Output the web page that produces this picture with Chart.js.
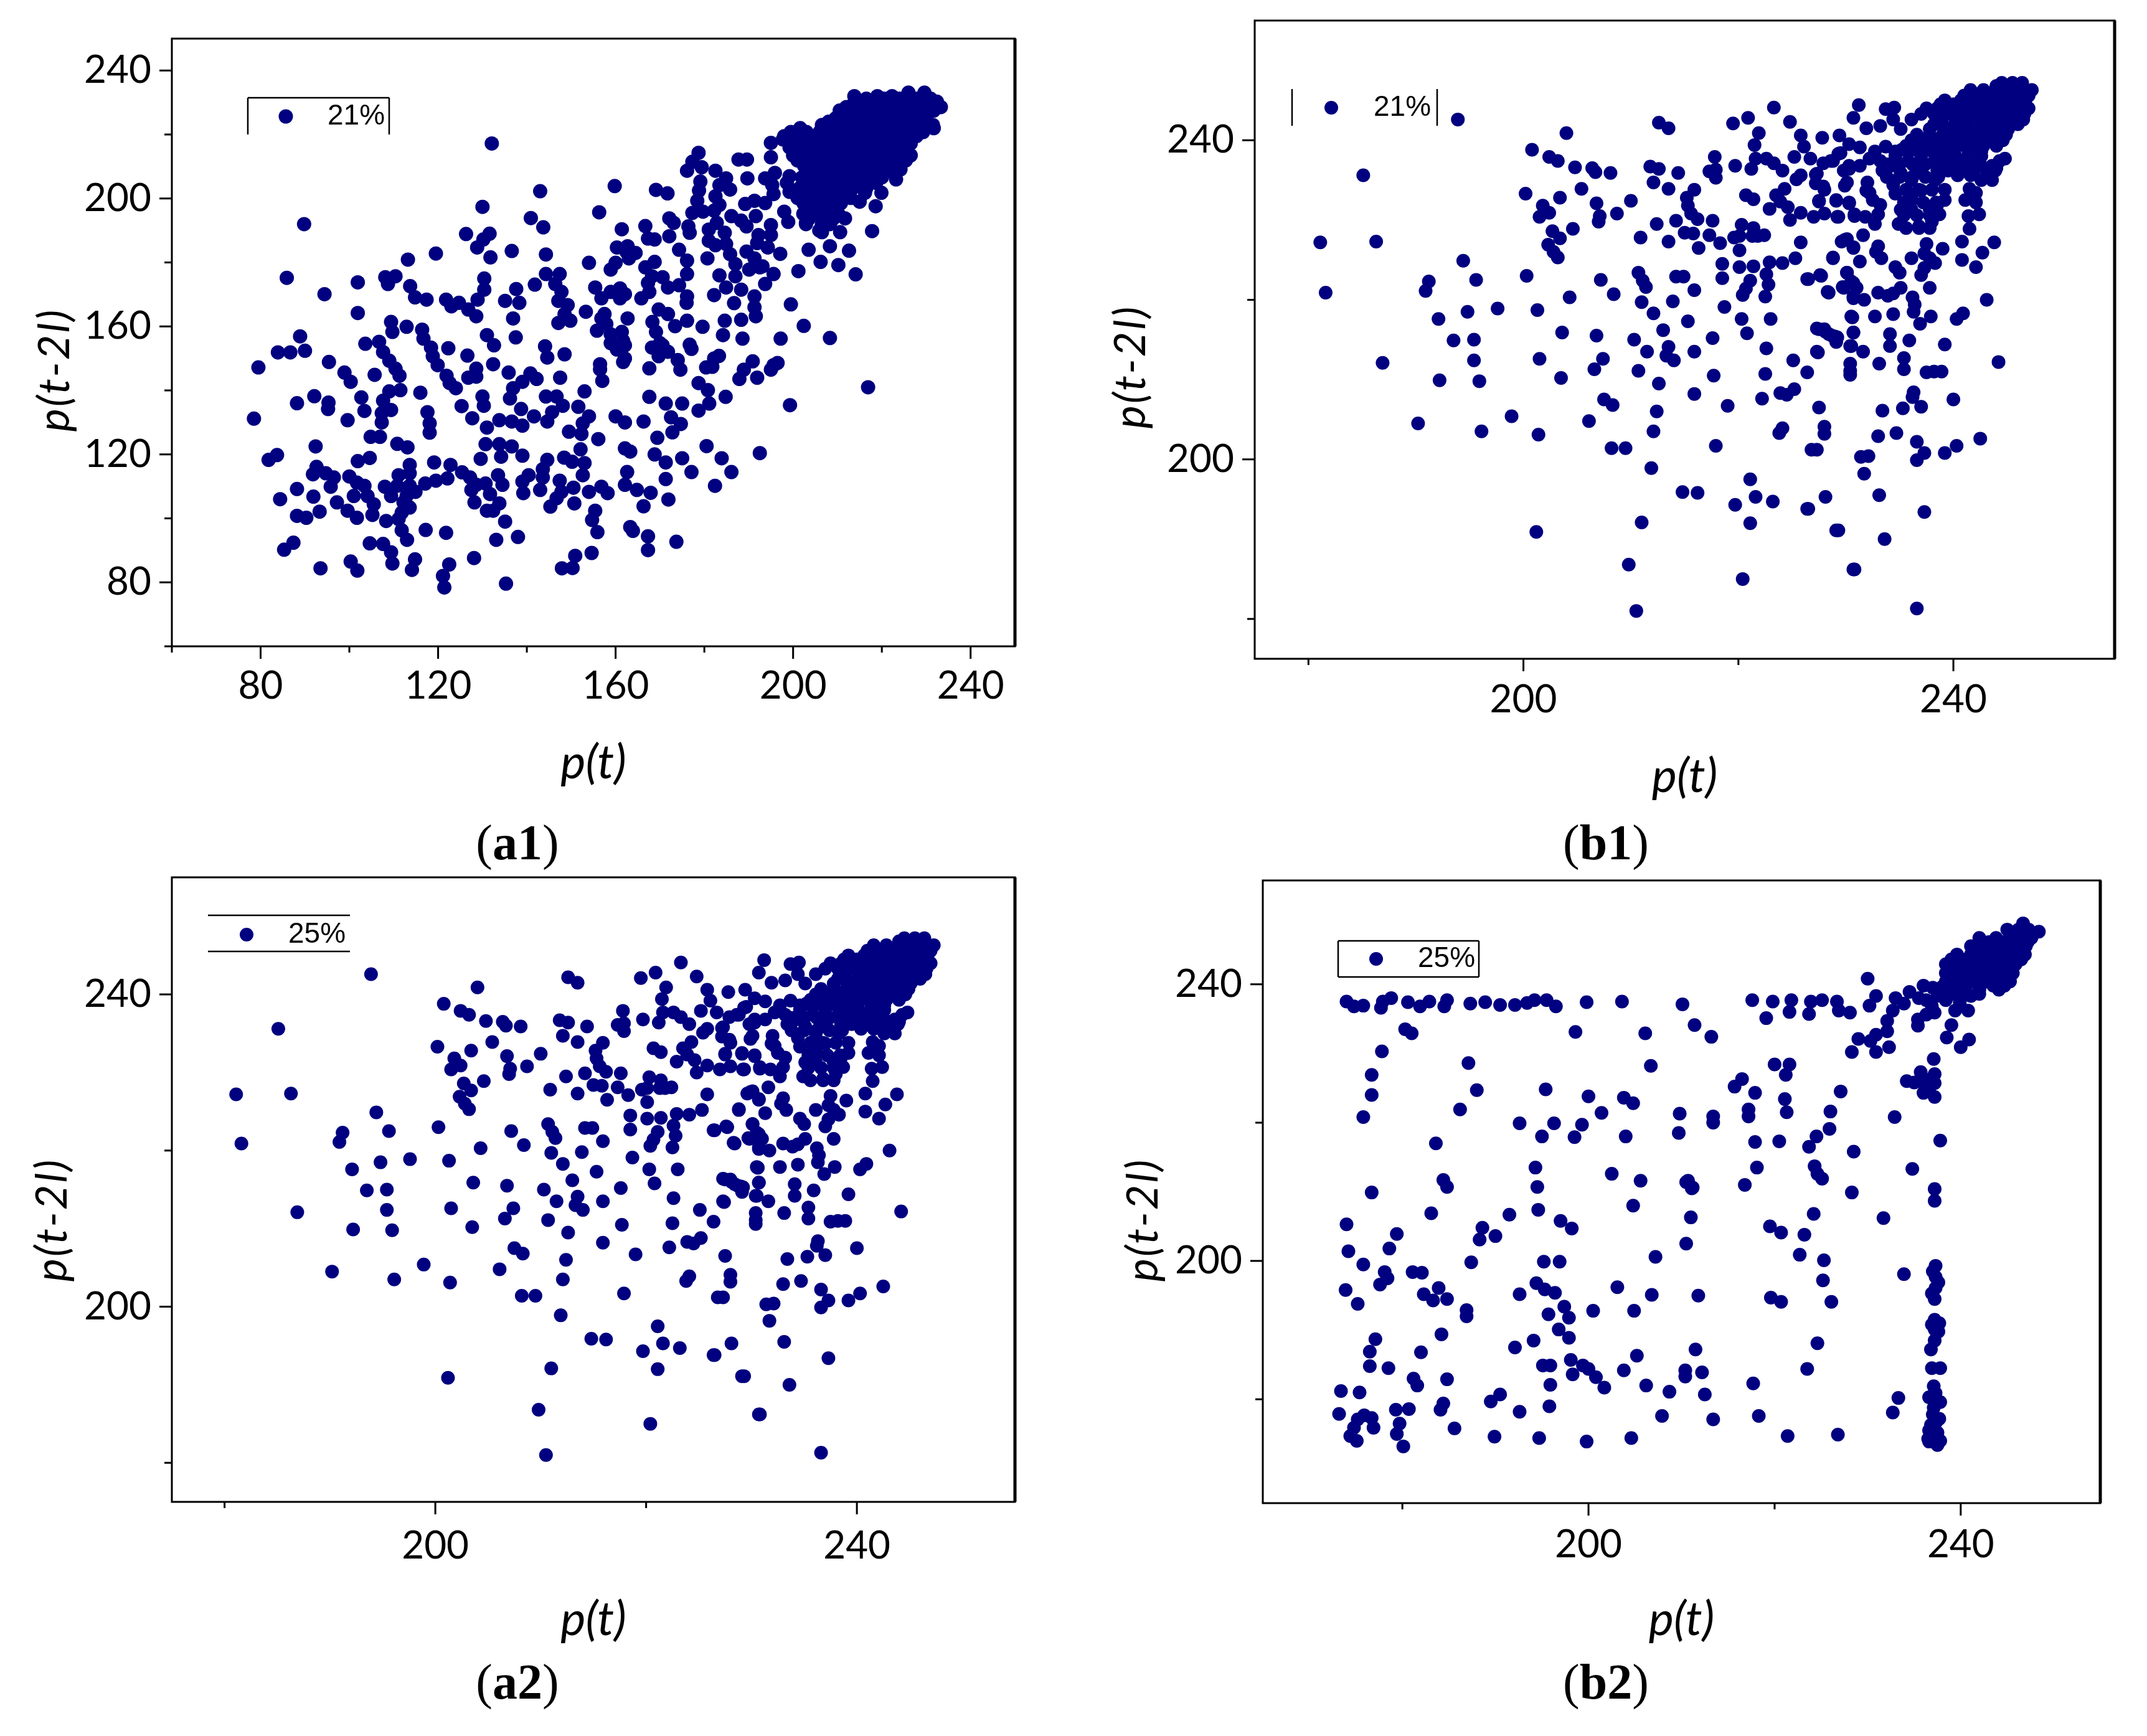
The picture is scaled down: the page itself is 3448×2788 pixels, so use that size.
<!DOCTYPE html>
<html>
<head>
<meta charset="utf-8">
<title>p(t) against p(t-2l)</title>
<script src="https://cdn.jsdelivr.net/npm/chart.js@4/dist/chart.umd.min.js"></script>
<style>
  html, body { margin: 0; padding: 0; background: #fff; }
  #page { position: relative; width: 3448px; height: 2788px; overflow: hidden; }
  canvas { position: absolute; }
  .caption { position: absolute; transform: translate(-50%, -50%); font: 80px "Liberation Serif", serif; color: #000; white-space: nowrap; }
  .caption b { font-weight: bold; }
</style>
</head>
<body>
<div id="page"></div>
<script>
// values, [p(t), p(t-2l)]
const a1Points = [
  [132.1,217.2],[89.8,192.0],[143.0,202.3],[159.8,203.9],[130.0,197.4],[156.3,195.7],[140.9,193.9],[143.7,191.0],[161.4,190.4],[126.3,188.9],
  [131.6,189.0],[130.2,187.2],[128.8,184.7],[119.5,182.8],[113.2,180.9],[131.8,181.6],[136.6,183.6],[144.3,182.5],[154.0,179.9],[85.9,175.2],
  [101.9,173.8],[94.4,170.1],[108.1,175.4],[110.4,175.7],[108.7,173.3],[113.7,172.6],[114.8,169.1],[117.4,168.4],[121.8,168.4],[123.0,166.3],
  [124.7,167.4],[126.8,165.3],[128.6,163.2],[128.9,168.4],[130.4,175.0],[130.4,171.5],[135.1,168.0],[137.6,171.7],[138.3,167.4],[141.8,173.1],
  [144.3,176.4],[147.4,176.4],[146.4,173.3],[147.8,170.8],[147.1,168.0],[149.2,166.7],[148.5,163.9],[147.1,161.1],[149.8,161.8],[153.3,164.6],
  [155.4,172.2],[156.8,168.8],[158.9,170.8],[161.0,171.9],[161.0,168.8],[158.9,177.8],[160.0,179.9],[160.3,184.7],[162.4,183.4],[101.9,164.2],
  [136.9,162.5],[109.4,161.4],[109.7,158.3],[112.9,159.9],[116.4,159.0],[116.7,156.2],[131.0,157.3],[132.6,154.1],[137.5,156.6],[88.9,156.9],
  [83.9,151.9],[86.7,151.9],[90.0,152.4],[79.5,147.2],[95.4,148.9],[103.6,154.6],[106.7,155.2],[107.6,152.0],[109.0,149.3],[110.4,146.8],
  [122.3,153.2],[118.4,153.4],[118.8,150.7],[119.9,147.9],[126.6,150.9],[132.4,148.2],[128.6,146.8],[144.1,153.8],[144.6,150.3],[148.5,151.3],
  [156.5,148.2],[161.7,148.9],[156.8,162.5],[157.9,160.8],[155.8,158.7],[157.5,163.9],[158.9,157.6],[158.9,154.8],[161.4,158.3],[161.7,155.5],
  [160.3,152.8],[98.9,145.6],[100.3,142.7],[105.7,144.9],[111.3,144.6],[121.9,144.6],[122.6,142.3],[124.0,140.7],[128.6,144.3],[126.8,144.0],
  [135.9,145.6],[140.8,145.3],[142.2,143.6],[139.0,142.7],[136.9,140.7],[136.2,137.5],[147.5,144.0],[156.5,146.6],[157.0,143.0],[153.0,139.7],
  [116.0,139.3],[111.5,140.1],[109.0,139.7],[107.6,136.8],[109.4,133.9],[107.3,132.9],[107.3,130.0],[102.7,137.8],[103.4,133.6],[92.1,138.2],
  [88.2,136.0],[95.3,136.2],[95.2,134.2],[78.5,131.2],[99.6,130.7],[117.6,133.2],[118.1,129.7],[118.1,126.8],[104.8,125.5],[106.9,125.5],
  [125.3,135.1],[130.0,138.1],[130.3,135.2],[127.7,131.3],[138.7,134.2],[139.0,129.0],[136.6,130.3],[133.8,130.7],[141.6,131.9],[144.6,130.3],
  [145.7,133.2],[144.3,138.1],[146.7,138.1],[148.1,135.2],[151.6,134.9],[154.0,131.9],[152.6,129.7],[149.5,127.1],[152.3,126.4],[156.1,124.8],
  [160.0,131.9],[162.1,130.0],[131.0,128.4],[130.7,123.2],[129.6,118.6],[133.8,123.2],[134.2,119.3],[136.6,122.5],[139.0,119.6],[152.1,121.6],
  [162.1,121.9],[148.4,119.0],[150.2,117.7],[153.0,117.3],[152.6,113.5],[144.6,118.3],[143.6,115.4],[143.6,112.8],[147.4,111.8],[140.4,113.5],
  [139.0,111.5],[139.2,107.9],[143.0,108.9],[162.1,110.5],[156.8,109.9],[158.2,107.9],[154.0,108.3],[150.5,109.6],[147.8,108.3],[146.7,106.3],
  [145.3,103.7],[150.7,104.7],[155.4,102.4],[154.7,99.5],[155.9,95.7],[150.9,88.3],[147.9,84.4],[135.3,79.6],[128.1,87.6],[138.0,94.2],
  [133.1,93.3],[135.1,99.0],[122.5,85.6],[121.1,82.0],[121.4,78.4],[114.8,87.2],[114.1,83.9],[109.7,85.9],[109.4,89.4],[107.6,92.0],
  [104.6,92.2],[100.3,86.5],[101.8,83.7],[93.5,84.4],[87.4,92.4],[85.3,90.2],[117.2,96.4],[121.8,95.5],[113.0,93.3],[111.8,96.3],
  [111.1,99.8],[111.8,101.8],[113.6,103.4],[108.3,99.2],[101.7,100.2],[99.6,102.4],[97.2,105.0],[105.2,101.1],[105.5,104.4],[104.1,107.0],
  [101.0,107.0],[103.4,110.2],[101.7,111.2],[93.3,102.1],[88.2,100.8],[90.3,100.2],[84.4,106.0],[88.2,109.2],[91.9,106.8],[95.8,109.9],
  [96.5,112.8],[94.7,114.1],[92.6,116.1],[91.8,113.8],[100.0,113.1],[81.8,118.3],[83.7,119.8],[92.4,122.5],[101.9,117.9],[104.6,118.9],
  [110.8,123.3],[113.1,122.2],[113.6,116.7],[113.6,114.1],[111.1,113.5],[108.0,109.9],[110.8,110.2],[113.6,110.2],[109.4,107.0],[112.9,107.0],
  [112.2,105.0],[114.9,108.3],[117.1,110.9],[119.5,111.8],[122.1,112.5],[119.1,117.5],[122.8,116.7],[125.4,114.4],[127.2,112.8],[128.6,110.5],
  [127.5,108.9],[130.7,110.9],[133.5,113.5],[134.5,110.5],[131.7,107.6],[128.2,105.0],[131.0,102.4],[133.8,104.7],[132.4,102.4],
  [178.7,214.3],[177.3,211.5],[179.4,209.8],[176.1,208.7],[187.7,212.2],[189.6,212.2],[182.5,208.7],[184.9,206.3],[183.4,204.2],[185.8,202.8],
  [182.5,200.7],[179.1,205.3],[178.8,202.5],[178.4,199.3],[189.7,206.3],[169.1,202.7],[171.7,201.6],[177.3,195.5],[179.7,195.9],[182.2,196.2],
  [183.4,198.0],[172.1,193.8],[173.1,192.4],[176.4,191.3],[176.7,189.3],[181.0,190.3],[181.0,186.8],[182.8,192.4],[184.6,189.3],[184.9,185.8],
  [182.5,185.4],[186.1,194.5],[188.3,193.1],[189.5,191.3],[191.6,194.5],[189.2,198.3],[191.3,199.3],[193.7,198.6],[195.6,201.4],[195.3,204.2],
  [193.7,206.3],[195.9,208.0],[198.6,204.9],[199.2,207.0],[195.0,217.4],[197.7,218.5],[195.0,212.9],[201.6,220.5],[198.0,195.9],[198.9,192.7],
  [195.0,191.7],[195.0,188.6],[192.2,188.6],[191.9,186.1],[194.3,184.7],[166.7,191.4],[167.3,187.5],[168.8,187.2],[172.1,188.2],[174.3,184.0],
  [176.1,180.6],[176.1,176.4],[162.7,185.1],[164.5,183.0],[163.0,181.3],[168.8,180.2],[166.7,178.5],[168.2,175.7],[170.6,175.4],[167.3,173.6],
  [171.8,172.2],[174.3,172.9],[176.1,169.4],[176.0,167.4],[180.7,181.3],[185.8,182.6],[187.0,179.5],[187.0,175.7],[183.4,176.0],[184.9,172.2],
  [182.2,169.8],[189.5,183.4],[191.3,181.3],[190.1,177.8],[193.1,178.8],[195.6,176.4],[193.7,173.3],[192.5,178.5],[197.1,182.7],[201.2,177.3],
  [203.5,184.0],[206.2,180.2],[208.3,185.1],[212.6,183.7],[210.2,179.2],[214.1,176.3],[217.8,189.8],[210.6,189.5],[211.7,193.8],[218.6,197.6],
  [215.0,199.0],[219.9,201.8],[223.2,206.0],[224.2,209.1],[205.9,190.0],[202.9,192.4],[199.2,202.1],[199.5,166.9],[188.3,171.5],[191.3,169.4],
  [191.3,166.0],[186.7,167.3],[191.6,163.2],[188.3,162.1],[184.6,161.8],[179.6,159.9],[176.1,161.8],[169.7,165.3],[171.8,163.9],[168.3,161.4],
  [173.4,160.1],[162.7,162.5],[165.8,168.8],[167.6,170.8],[162.1,170.1],[184.2,157.3],[188.6,156.2],[197.2,156.2],[208.3,156.4],[202.4,160.2],
  [176.7,154.3],[169.1,158.3],[168.2,153.4],[170.6,154.1],[171.8,152.1],[169.7,150.7],[170.0,154.8],[190.9,149.1],[195.6,147.9],[196.5,148.6],
  [182.2,150.0],[180.4,147.2],[174.6,146.5],[167.6,146.9],[162.1,154.1],[162.1,150.0],
  [226.0,233.1],[229.6,233.1],[213.8,232.0],[219.0,232.0],[222.3,232.0],[232.4,230.3],[227.8,230.3],[224.8,230.3],[212.0,228.6],[215.0,228.6],
  [218.1,228.6],[221.1,228.6],[233.3,228.6],[224.2,226.5],[227.2,226.5],[230.2,226.5],[209.6,225.1],[212.6,225.1],[215.6,225.1],[218.7,225.1],
  [221.7,225.1],[206.5,223.0],[224.8,223.0],[227.8,223.0],[231.5,223.0],[201.6,222.0],[209.6,222.0],[212.6,222.0],[215.6,222.0],[218.7,222.0],
  [221.7,222.0],[231.7,222.0],[198.0,219.5],[201.0,219.5],[204.1,219.5],[207.1,219.5],[224.8,219.5],[227.8,219.5],[210.2,218.5],[213.2,218.5],
  [216.2,218.5],[219.3,218.5],[222.3,218.5],[199.2,216.0],[202.3,216.0],[205.3,216.0],[208.3,216.0],[225.4,216.0],[211.4,215.0],[214.4,215.0],
  [217.5,215.0],[220.5,215.0],[223.5,215.0],[201.0,211.9],[204.1,211.9],[207.1,211.9],[210.2,211.9],[213.2,211.9],[216.2,211.9],[219.3,211.9],
  [222.3,211.9],[225.4,211.9],[204.1,208.4],[207.1,208.4],[210.2,208.4],[213.2,208.4],[216.2,208.4],[219.3,208.4],[222.3,208.4],[203.5,204.9],
  [206.5,204.9],[209.6,204.9],[212.6,204.9],[215.6,204.9],[218.7,204.9],[203.5,201.8],[206.5,201.8],[209.6,201.8],[212.6,201.8],[216.2,201.8],
  [202.3,198.6],[205.3,198.6],[208.3,198.6],[210.8,198.6],[202.3,195.2],[205.3,195.2],[208.3,195.2],[210.2,195.2],[202.9,192.0],[206.5,192.0],[208.3,192.0],
  [216.9,141.0],[199.3,135.4],[192.5,120.4],[183.9,118.8],[180.5,122.6],[186.1,114.5],[182.4,110.2],[195.0,146.5],[187.9,143.6],[191.9,144.0],
  [181.8,147.4],[180.8,140.1],[178.7,142.3],[169.4,125.2],[172.8,126.9],[171.3,112.3],[173.7,92.7],[167.3,94.4],[163.9,96.1],[167.3,90.1],
  [150.3,84.5],[154.6,89.2],[167.6,138.0],[171.3,135.9],[175.0,135.9],[172.5,131.6],[174.7,129.5],[166.3,130.3],[168.8,120.0],[163.3,120.9],
  [162.6,114.5],[171.3,117.5],[175.0,118.8],[177.1,114.5],[167.9,108.0],[171.9,105.9],[164.8,108.9],[166.3,103.8],[163.3,97.3],[178.7,133.7],
  [181.1,135.9],[184.8,138.0],[188.9,146.5],[183.3,150.8],[177.1,153.0],[174.0,149.5]
];

// the dense top right of a1, where single dots cannot be told apart
const a1Cluster = [
  [216.5,231.2],[220.5,231.2],[224.0,231.2],[228.0,231.2],[231.0,231.2],
  [213.5,229.4],[216.5,229.4],[219.5,229.4],[222.5,229.4],[225.5,229.4],[229.0,229.4],[232.0,229.4],
  [210.5,227.5],[213.5,227.5],[216.5,227.5],[219.6,227.5],[222.6,227.5],[225.7,227.5],[228.7,227.5],[231.7,227.5],
  [208.0,224.0],[211.0,224.0],[214.0,224.0],[217.0,224.0],[220.2,224.0],[223.2,224.0],[226.3,224.0],[229.3,224.0],
  [199.5,220.8],[203.0,220.8],[206.0,220.8],[208.5,220.8],[211.0,220.8],[214.0,220.8],[217.0,220.8],[220.2,220.8],[223.2,220.8],[226.3,220.8],[229.3,220.8],
  [200.5,217.2],[203.5,217.2],[206.5,217.2],[209.5,217.2],[212.6,217.2],[215.6,217.2],[218.7,217.2],[221.7,217.2],[224.7,217.2],[226.5,217.2],
  [200.0,213.5],[203.0,213.5],[206.0,213.5],[209.0,213.5],[212.0,213.5],[215.0,213.5],[218.0,213.5],[221.0,213.5],[224.0,213.5],[226.5,213.5],
  [202.5,210.2],[205.5,210.2],[208.7,210.2],[211.7,210.2],[214.7,210.2],[217.7,210.2],[220.7,210.2],[223.7,210.2],
  [202.0,206.6],[205.0,206.6],[208.0,206.6],[211.0,206.6],[214.0,206.6],[217.0,206.6],[220.0,206.6],
  [201.5,203.3],[204.5,203.3],[207.5,203.3],[210.5,203.3],[213.5,203.3],[216.5,203.3],
  [201.0,200.2],[204.0,200.2],[207.0,200.2],[210.0,200.2],[213.0,200.2],
  [203.0,196.9],[206.0,196.9],[209.0,196.9],[203.5,193.6],[207.0,193.6],[209.0,193.6],[206.5,189.5]
];

const a2Points = [
  [193.9,242.6],[185.1,235.6],[181.1,227.2],[186.3,227.3],[181.6,220.9],[204.0,240.9],[200.8,238.8],[202.4,237.9],[203.2,237.4],[204.8,236.6],
  [206.4,236.5],[206.7,236.0],[208.1,235.9],[200.2,233.3],[203.4,232.8],[205.4,233.9],[206.8,232.1],[210.0,232.4],[208.7,230.8],[207.1,230.5],
  [207.0,229.8],[201.8,231.8],[202.4,230.9],[201.5,230.4],[204.6,228.9],[202.7,228.6],[203.4,227.7],[202.3,226.9],[202.8,226.0],[203.2,225.3],
  [194.4,224.9],[195.6,222.5],[200.3,223.0],[191.2,222.3],[190.9,221.1],[207.2,222.5],[208.4,220.7],[204.3,220.3],[194.8,218.5],[197.6,218.9],
  [201.3,218.7],[192.1,217.6],[193.5,214.9],[195.4,215.0],[195.4,212.4],[186.9,212.1],[192.2,209.9],[195.9,209.8],[203.6,215.9],[201.5,212.6],
  [203.5,210.2],[206.8,215.5],[207.4,212.6],[206.6,211.3],[190.2,204.5],[196.1,203.5],[198.9,205.4],[201.4,203.1],[201.2,190.9],[206.1,204.8],
  [207.5,207.5],[208.3,206.8],[208.2,201.4],[209.5,201.4],[211.9,198.9],[212.4,206.0],[212.1,203.5],[212.6,209.5],[210.7,211.1],[210.3,215.0],
  [211.5,213.5],[213.0,216.2],[213.5,214.1],[213.3,213.0],[214.0,212.4],[215.9,213.5],[212.1,218.3],[211.0,219.7],[213.9,219.8],[215.3,217.3],
  [217.6,215.2],[215.9,221.2],[211.4,221.6],[211.1,222.4],[210.7,223.4],[214.2,222.9],[214.9,222.9],[210.9,227.8],[212.4,229.5],[213.5,227.3],
  [214.2,229.9],[215.0,228.4],[215.8,228.3],[216.3,226.5],[217.3,228.1],[218.3,227.1],[217.6,229.9],[216.2,230.1],[215.6,230.8],[215.3,231.8],
  [215.2,232.8],[215.9,233.8],[213.5,233.9],[212.1,234.7],[211.8,236.7],[212.6,236.4],[214.4,235.9],[212.6,242.2],[213.5,241.5],[219.5,242.1],
  [220.9,242.8],[223.3,244.1],[224.8,242.3],[219.7,236.8],[217.8,237.9],[217.3,236.1],[217.9,236.3],[217.9,235.3],[221.9,240.9],[221.5,239.4],
  [221.2,236.4],[221.6,237.7],[222.6,237.7],[223.3,237.1],[224.1,236.2],[225.2,237.9],[225.8,240.6],[226.1,239.2],[226.7,237.7],[227.8,240.3],
  [229.4,240.6],[220.7,233.1],[221.4,232.6],[223.5,233.1],[224.3,233.9],[225.4,235.1],[225.8,235.6],[223.9,232.3],[222.9,231.4],[224.6,231.6],
  [224.8,230.0],[225.8,230.9],[227.0,230.4],[228.0,230.8],[229.3,230.4],[230.8,230.5],[227.5,232.3],[229.1,232.4],[230.3,232.2],[227.3,235.8],
  [227.2,234.6],[228.0,233.8],[228.8,237.4],[229.5,238.4],[230.3,236.4],[229.9,234.3],[220.3,229.4],[220.1,228.0],[219.6,227.8],[220.1,226.2],
  [221.4,229.0],[221.8,228.0],[222.4,228.1],[221.3,228.0],[218.5,224.5],[218.5,222.7],[220.1,224.1],[221.4,224.2],[222.9,224.7],[224.1,224.6],
  [225.3,225.2],[222.6,223.2],[221.1,222.4],[220.7,221.4],[220.4,220.6],[222.8,221.9],[222.5,220.4],[218.7,219.1],[220.3,217.6],[223.0,217.6],
  [220.8,215.8],[222.6,213.9],[225.1,212.4],[227.4,213.4],[226.4,210.9],[222.5,210.7],[217.7,210.5],[215.9,208.2],[219.0,206.7],[222.2,207.6],
  [223.9,208.3],[224.5,208.1],[225.2,208.8],[227.5,206.5],[228.0,204.1],[228.0,203.2],[224.1,203.9],[223.8,203.3],[217.9,201.7],[226.8,201.2],
  [227.3,201.2],[221.1,197.5],[221.6,195.3],[223.2,194.7],[219.7,194.3],[221.1,192.0],[214.8,195.9],[216.2,195.8],[211.0,192.1],[209.8,186.8],
  [210.5,181.0],[220.4,185.0],[226.4,193.8],[228.1,195.3],[229.3,191.1],[230.7,186.2],
  [231.2,244.4],[230.7,242.8],[233.7,243.9],[234.5,244.1],[231.9,241.5],[233.2,241.8],[234.4,242.6],[230.3,239.5],[231.3,239.1],[232.2,237.7],
  [228.6,237.4],[229.3,238.3],[230.3,236.8],[231.3,236.8],[230.1,234.7],[229.8,236.2],[227.9,237.1],[227.2,235.7],[227.9,234.2],[227.5,232.4],
  [229.1,232.5],[230.3,232.1],[230.8,230.7],[231.8,230.4],[232.7,229.5],[229.2,230.4],[231.6,228.1],[230.1,227.6],[230.7,226.6],[229.6,227.3],
  [228.8,225.3],[231.3,224.8],[233.0,226.7],[232.8,226.0],[233.3,225.2],[232.0,234.7],[231.9,233.7],[232.5,232.5],[233.2,231.9],[233.0,230.7],
  [232.2,233.4],[233.4,236.2],[234.2,236.8],[233.2,237.4],[233.7,239.2],[232.7,238.6],[234.4,234.4],[234.6,233.3],[235.1,231.3],[234.9,229.5],
  [236.1,231.3],[236.8,229.2],[235.4,232.2],[236.1,232.8],[237.0,233.7],[238.3,235.0],[238.5,236.2],[237.0,236.2],[236.1,235.0],[235.1,235.9],
  [235.8,237.4],[237.0,238.0],[238.3,238.0],[234.6,238.0],[238.5,231.9],[239.2,232.5],[238.7,230.7],[238.0,229.8],[237.8,231.3],[237.5,227.0],
  [237.3,225.8],[239.0,226.4],[238.3,224.6],[237.3,224.0],[236.1,225.2],[234.6,224.1],[235.0,223.4],[237.0,223.1],[237.8,221.5],[237.8,225.2],
  [230.1,223.4],[230.5,222.3],[229.8,221.5],[231.0,221.5],[228.3,221.0],[226.4,222.6],[227.6,223.1],[230.7,220.2],[231.7,220.0],[233.0,220.9],
  [233.9,220.5],[235.1,221.5],[234.4,220.8],[236.2,220.3],[236.4,219.4],[236.3,218.5],[236.9,217.0],[237.9,217.9],[230.5,217.9],[232.7,217.9],
  [234.4,218.2],[240.3,217.6],[240.9,218.3],[243.1,220.0],[243.8,227.2],[242.7,225.9],[240.8,225.0],[242.1,224.1],[240.8,227.3],[241.5,228.9],
  [241.4,230.5],[242.4,230.7],[241.1,232.5],[242.1,232.2],[241.5,233.9],[242.1,233.4],[243.6,235.0],[242.6,235.0],[244.0,236.5],[244.8,237.7],
  [244.5,247.2],[245.5,247.2],[246.4,247.2],[241.6,246.3],[242.8,246.3],[243.9,246.3],[245.0,246.3],[246.1,246.3],[247.3,246.3],[239.2,245.0],
  [240.7,245.0],[241.9,245.0],[243.1,245.0],[244.3,245.0],[245.5,245.0],[246.7,245.0],[237.5,244.0],[238.5,244.0],[239.7,244.0],[240.9,244.0],
  [242.1,244.0],[243.3,244.0],[244.5,244.0],[245.7,244.0],[247.0,244.0],[236.1,242.6],[238.7,242.6],[240.2,242.6],[241.4,242.6],[242.6,242.6],
  [243.8,242.6],[245.0,242.6],[246.5,242.6],[235.1,241.4],[237.8,241.4],[239.2,241.4],[240.4,241.4],[241.6,241.4],[242.8,241.4],[244.0,241.4],
  [245.1,241.4],[236.1,240.0],[237.3,240.0],[238.5,240.0],[240.0,240.0],[241.1,240.0],[242.4,240.0],[243.6,240.0],[244.6,240.0],[234.6,238.6],
  [235.8,238.6],[237.0,238.6],[238.5,238.6],[240.0,238.6],[241.4,238.6],[242.6,238.6],[239.7,237.4],[240.9,237.4],[242.1,237.4],[244.3,237.4],
  [239.5,236.2],[240.7,236.2],[241.9,236.2],[243.1,236.2],[243.9,236.2],[240.4,235.6],[241.6,235.6],
  [244.2,212.2],[237.5,210.9],[238.2,211.0],[238.9,211.0],[235.4,212.7],[235.4,211.3],[233.1,212.0],[230.4,212.0],[230.4,210.6],[227.3,213.5],
  [239.2,214.4],[235.9,214.9],[234.1,215.7],[234.1,214.2],[230.7,215.9],[230.4,214.2],[231.6,213.5],[227.3,216.4],[228.1,216.0],[229.0,215.4],
  [229.1,214.7],[228.4,215.7],[236.3,208.4],[233.4,206.1],[240.0,207.5],[237.0,206.6],[235.3,206.4],[236.2,207.8],[234.7,203.3],[233.0,202.9],
  [236.6,202.2],[237.3,200.8],[236.6,199.9],[242.5,202.6],[240.3,201.7],[239.2,200.8],[233.1,195.5],[237.3,193.4],[233.6,190.0],[230.8,186.2],
  [236.6,181.3],[229.1,191.1],[226.5,193.8],[231.7,198.2],[232.1,200.4],[231.4,200.3],[230.6,217.8],[230.7,215.9],[230.5,214.2],[230.4,211.1],
  [227.5,216.3],[228.0,216.3],[228.7,215.5],[229.2,215.3],[228.8,225.2],[226.5,222.6],[227.7,223.0],[228.4,220.9],[230.1,223.4],[229.7,221.6],
  [230.7,222.1],[230.7,220.4],[229.9,227.5],[230.7,226.5],[225.8,227.2]
];

// the dense top right of a2, where single dots cannot be told apart
const a2Cluster = [
  [235.2,238.8],[236.4,238.8],[237.6,238.8],[238.8,238.8],
  [233.8,237.0],[235.0,237.0],[236.2,237.0],[237.4,237.0],[238.6,237.0],[239.8,237.0],
  [233.8,235.4],[235.0,235.4],[236.2,235.4],[237.4,235.4],[238.6,235.4],
  [235.6,233.8],[236.8,233.8],[238.0,233.8],[239.2,233.8],[236.0,232.2],[237.2,232.2],[238.4,232.2],
  [235.4,230.6],[236.6,230.6],[237.8,230.6],[235.6,229.0],[236.8,229.0],[237.8,229.0],
  [244.0,246.8],[245.0,246.8],[246.0,246.8],
  [241.0,245.6],[242.2,245.6],[243.4,245.6],[244.6,245.6],[245.8,245.6],[247.0,245.6],
  [238.8,244.5],[240.0,244.5],[241.2,244.5],[242.4,244.5],[243.6,244.5],[244.8,244.5],[246.0,244.5],
  [237.0,243.3],[238.2,243.3],[239.4,243.3],[240.6,243.3],[241.8,243.3],[243.0,243.3],[244.2,243.3],[245.4,243.3],[246.6,243.3],
  [238.2,242.0],[239.0,242.0],[240.2,242.0],[241.4,242.0],[242.6,242.0],[243.8,242.0],[245.0,242.0],[246.0,242.0],
  [236.6,240.7],[237.8,240.7],[239.0,240.7],[240.2,240.7],[241.4,240.7],[242.6,240.7],[243.8,240.7],[244.9,240.7],
  [235.6,239.3],[236.8,239.3],[238.0,239.3],[239.2,239.3],[240.4,239.3],[241.6,239.3],[242.8,239.3],[244.0,239.3],
  [239.0,238.0],[240.2,238.0],[241.4,238.0],[242.6,238.0],[239.0,236.8],[240.2,236.8],[241.4,236.8],[242.6,236.8],[243.6,236.8]
];

const b2Points = [
  [174.0,237.5],[174.8,236.8],[175.8,236.9],[177.7,236.6],[177.9,237.5],[178.8,238.0],[180.6,237.4],[181.9,236.8],[182.9,237.5],[184.5,236.8],
  [184.8,237.7],[187.3,237.2],[188.9,237.4],[190.5,237.0],[192.1,237.0],[193.4,237.3],[194.2,237.7],[195.5,237.7],[196.5,236.8],[199.8,237.4],
  [203.6,237.5],[210.1,237.1],[180.3,233.5],[181.0,232.9],[198.6,233.1],[206.1,232.9],[211.4,234.1],[177.8,230.3],[187.1,228.6],[206.7,228.2],
  [176.7,226.9],[176.7,224.0],[188.0,224.7],[195.4,224.8],[200.0,223.8],[203.8,223.6],[204.8,222.8],[186.2,221.9],[175.8,220.8],[201.4,221.4],
  [209.8,221.3],[192.6,219.9],[196.3,219.9],[199.3,219.7],[195.0,218.0],[198.5,217.9],[204.0,218.0],[209.7,218.5],[183.6,217.0],[194.3,213.5],
  [202.5,212.6],[205.6,211.6],[210.5,211.4],[211.1,210.5],[184.4,211.7],[184.8,210.7],[194.5,210.7],[176.7,209.9],
  [230.0,240.8],[230.9,238.3],[230.2,236.9],[217.6,237.7],[219.8,237.5],[221.8,237.7],[221.6,236.0],[219.1,235.1],[223.9,237.5],[225.1,237.7],
  [226.7,237.5],[223.7,235.7],[226.9,236.2],[228.1,235.9],[213.2,232.4],[229.0,232.1],[228.3,230.2],[230.9,232.7],[230.3,231.8],[232.1,233.2],
  [230.9,230.2],[232.3,230.9],[232.1,234.7],[232.7,236.2],[233.0,238.0],[234.5,238.9],[233.9,237.2],[236.0,239.8],[235.4,234.9],[236.3,235.6],
  [237.2,235.9],[235.4,234.0],[239.0,234.1],[238.5,232.3],[240.9,232.0],[240.0,230.9],[239.4,236.2],[240.8,236.2],[239.9,237.4],[241.1,238.3],
  [242.0,238.6],[244.1,239.3],[236.3,237.7],[237.5,238.3],[238.4,237.7],[236.9,236.8],[238.4,239.2],[239.0,241.0],[239.9,239.5],
  [246.7,248.8],[248.4,247.6],[245.0,247.9],[246.2,247.9],[247.3,247.9],[242.0,246.7],[243.8,246.7],[245.3,246.7],[246.7,246.7],[247.6,246.7],
  [241.1,245.5],[242.6,245.5],[244.1,245.5],[245.6,245.5],[247.0,245.5],[239.6,244.3],[241.1,244.3],[242.6,244.3],[244.1,244.3],[245.6,244.3],
  [246.9,244.3],[238.4,242.9],[239.9,242.9],[241.4,242.9],[242.9,242.9],[244.4,242.9],[245.9,242.9],[238.4,241.6],[239.9,241.6],[241.4,241.6],
  [242.9,241.6],[244.4,241.6],[245.6,241.6],[238.4,240.4],[239.9,240.4],[241.4,240.4],[242.9,240.4],[244.1,240.4],[245.3,240.4],[240.5,239.2],
  [242.0,239.2],[244.1,239.2],
  [237.1,229.2],[235.7,227.3],[237.2,227.0],[234.2,226.0],[235.7,226.0],[237.2,225.7],[236.0,224.3],[237.2,223.7],[236.3,224.9],[227.1,224.5],
  [220.0,228.4],[221.6,228.4],[221.2,226.9],[216.5,226.3],[215.7,225.2],[217.9,224.3],[221.1,223.4],[221.3,221.5],[217.2,221.9],[217.2,220.9],
  [213.4,220.9],[213.4,220.0],[226.0,221.6],[225.9,219.1],[232.9,220.8],[224.5,218.0],[223.7,216.5],[217.9,217.2],[220.5,217.3],[237.8,217.4],
  [228.5,215.8],[218.1,213.5],[224.3,213.7],[224.6,212.6],[225.1,211.9],[234.8,213.3],[216.8,211.0],[210.7,211.6],[211.2,210.6],[237.2,210.4],
  [228.3,209.9],
  [204.8,208.0],[183.1,206.9],[191.5,206.7],[194.6,207.4],[211.0,206.3],[224.2,206.8],[174.0,205.3],[179.4,203.9],[188.6,204.8],[188.3,203.1],
  [190.0,203.6],[197.0,205.8],[198.2,204.7],[219.5,205.0],[220.7,204.1],[223.2,203.8],[210.5,202.5],[174.2,201.4],[178.6,201.8],[175.8,199.5],
  [187.4,199.8],[195.2,199.9],[196.9,199.9],[207.2,200.6],[222.7,200.9],[225.3,200.1],[178.1,198.4],[178.4,197.5],[177.6,196.6],[181.1,198.4],
  [182.1,198.3],[225.2,197.2],[173.9,195.8],[175.2,193.8],[183.9,196.1],[182.3,195.2],[183.3,194.3],[184.8,194.5],[192.6,195.2],[194.4,196.8],
  [195.3,195.9],[196.4,195.4],[203.1,196.2],[206.8,195.1],[211.8,195.0],[219.6,194.7],[220.7,194.1],[226.1,194.1],[186.9,192.9],[186.9,192.0],
  [197.4,193.4],[197.9,191.8],[195.7,192.3],[200.5,192.8],[204.9,192.8],[184.2,189.4],[196.8,190.1],[197.9,188.9],[194.1,188.5],[192.1,187.5],
  [177.1,188.7],[176.5,186.9],[176.5,184.8],[182.0,186.8],[178.5,184.5],[205.2,186.3],[211.5,187.2],[224.6,188.1],[195.1,184.9],[195.9,184.9],
  [198.1,185.7],[199.4,184.9],[200.0,184.4],[198.3,183.6],[200.8,183.2],[201.7,181.7],[203.8,184.2],[210.4,184.2],[210.4,183.3],[212.2,183.9],
  [223.5,184.4],[181.2,183.0],[181.6,182.0],[184.8,182.9],[195.9,182.1],[206.2,182.0],[217.7,182.3],[173.4,181.2],[175.4,181.0],[190.5,180.7],
  [189.5,179.7],[208.7,181.1],[212.5,180.7],[184.4,179.4],[184.1,178.5],[195.8,179.0],[192.6,178.2],[173.2,177.9],[179.3,178.5],[180.7,178.6],
  [175.9,177.7],[176.7,177.3],[176.9,175.9],[175.2,177.1],[174.8,175.9],[174.4,174.7],[175.1,174.0],[179.7,176.5],[179.4,175.0],[180.1,173.2],
  [207.9,177.6],[213.4,177.1],[218.3,177.6],[185.6,175.8],[189.9,174.6],[194.7,174.4],[199.8,173.9],[204.6,174.4],[221.4,174.7],[226.8,174.9],
  [231.7,206.2],[237.2,208.7],[233.9,198.1],[237.3,199.3],[237.3,197.7],[237.3,196.1],[237.2,194.5],[237.2,191.5],[237.2,190.1],[237.2,188.5],
  [236.8,187.2],[236.9,184.5],[237.8,184.5],[237.1,181.9],[236.6,180.3],[237.8,179.6],[237.0,177.8],[237.4,176.8],[236.6,175.5],[237.5,175.2],
  [236.5,174.3],[237.5,173.4],[233.3,180.2],[232.7,178.1]
];

// the dense top right of b2 and the stack of dots near p(t) = 237
const b2Cluster = [
  [245.6,247.3],[246.7,247.3],[247.8,247.3],[243.0,246.1],[244.5,246.1],[246.0,246.1],[247.2,246.1],
  [241.8,244.9],[243.3,244.9],[244.8,244.9],[246.3,244.9],
  [239.0,243.6],[240.6,243.6],[242.1,243.6],[243.6,243.6],[245.1,243.6],[246.5,243.6],
  [239.1,242.2],[240.6,242.2],[242.1,242.2],[243.6,242.2],[245.1,242.2],
  [239.1,241.0],[240.6,241.0],[242.1,241.0],[243.6,241.0],[245.0,241.0],
  [239.1,239.8],[240.6,239.8],[242.1,239.8],[243.5,239.8],[244.7,239.8],
  [237.0,239.5],[238.0,239.6],[238.6,238.4],[239.5,238.5],[240.2,238.3],[235.5,238.0],
  [237.0,198.5],[237.6,196.9],[236.9,195.3],[237.7,191.0],[236.9,190.8],[237.6,189.8],[237.3,180.9],[237.1,178.8],
  [237.7,177.2],[236.8,176.3],[237.2,174.8],[237.8,174.0],[236.6,173.9],[235.0,225.8],[236.8,226.3],[236.6,224.9]
];

const a1Ticks = [60, 80, 100, 120, 140, 160, 180, 200, 220, 240];
const a1Labels = [80, 120, 160, 200, 240];
const a2Ticks = [180, 200, 220, 240];
const a2Labels = [200, 240];
const b2Ticks = [180, 200, 220, 240];
const b2Labels = [200, 240];

const xLabel = 'p(t)';
const yLabel = 'p(t-2l)';
const navy = '#000080';
const tickFont = { family: 'Lato', size: 62 };
const xTitleFont = { family: 'Lato', size: 76, style: 'italic' };
const yTitleFont = 'italic 70px Lato';

// page layout, all in page pixels
const panels = [
  { name: 'a1', points: [...a1Points, ...a1Cluster], radius: 11.5, legend: '21%', range: [60, 250], ticks: a1Ticks, labels: a1Labels,
    box: [0, 0, 1700, 1300], area: [276, 62, 1630, 1038], xPad: 19, xTitleY: 1225, yTitle: [88, 594], caption: [831, 1353],
    legendBox: [398, 157, 625, 216], sides: 'tlr', marker: [459, 187], legendText: 526 },
  { name: 'b1', points: [...a2Points, ...a2Cluster], radius: 11, legend: '21%', range: [175, 255], ticks: a2Ticks, labels: a2Labels,
    box: [1700, 0, 1748, 1300], area: [2015, 33, 3396, 1058], xPad: 21, xTitleY: 1247, yTitle: [1816, 589], caption: [2579, 1353],
    legendBox: [2075, 143, 2308, 202], sides: 'lr', marker: [2138, 173], legendText: 2206 },
  { name: 'a2', points: [...a2Points, ...a2Cluster], radius: 11, legend: '25%', range: [175, 255], ticks: a2Ticks, labels: a2Labels,
    box: [0, 1380, 1700, 1280], area: [276, 1409, 1630, 2412], xPad: 26, xTitleY: 2601, yTitle: [84, 1959], caption: [831, 2701],
    legendBox: [334, 1470, 562, 1528], sides: 'tb', marker: [396, 1501], legendText: 463 },
  { name: 'b2', points: [...b2Points, ...b2Cluster], radius: 11, legend: '25%', range: [165, 255], ticks: b2Ticks, labels: b2Labels,
    box: [1700, 1380, 1748, 1280], area: [2028, 1414, 3373, 2414], xPad: 22, xTitleY: 2601, yTitle: [1836, 1959], caption: [2579, 2701],
    legendBox: [2149, 1511, 2375, 1569], sides: 'tblr', marker: [2210, 1540], legendText: 2277 }
];

// frame, outward ticks, y title and the small legend box
const framePlugin = {
  id: 'frame',
  afterDatasetsDraw(chart, args, opts) {
    const { ctx, chartArea: a, scales: { x, y } } = chart;
    const p = opts.panel;
    const ox = p.box[0], oy = p.box[1];
    ctx.save();
    ctx.strokeStyle = '#000';
    ctx.fillStyle = '#000';
    ctx.lineWidth = 3;
    ctx.strokeRect(a.left, a.top, a.right - a.left, a.bottom - a.top);
    ctx.lineWidth = 5;
    ctx.beginPath();
    ctx.moveTo(a.right, a.top);
    ctx.lineTo(a.right, a.bottom);
    ctx.stroke();

    ctx.lineWidth = 3;
    ctx.beginPath();
    x.ticks.forEach(t => {
      const len = p.labels.includes(t.value) ? 20 : 10;
      const px = x.getPixelForValue(t.value);
      ctx.moveTo(px, a.bottom);
      ctx.lineTo(px, a.bottom + len);
    });
    y.ticks.forEach(t => {
      const len = p.labels.includes(t.value) ? 20 : 12;
      const py = y.getPixelForValue(t.value);
      ctx.moveTo(a.left, py);
      ctx.lineTo(a.left - len, py);
    });
    ctx.stroke();

    // y title
    ctx.save();
    ctx.translate(p.yTitle[0] - ox, p.yTitle[1] - oy);
    ctx.rotate(-Math.PI / 2);
    ctx.font = yTitleFont;
    ctx.letterSpacing = '3px';
    ctx.textAlign = 'center';
    ctx.textBaseline = 'middle';
    ctx.fillText(yLabel, 0, 0);
    ctx.restore();

    // legend
    const [l, t, r, b] = p.legendBox.map((v, i) => v - (i % 2 ? oy : ox));
    ctx.lineWidth = 2.5;
    ctx.beginPath();
    if (p.sides.includes('t')) { ctx.moveTo(l, t); ctx.lineTo(r, t); }
    if (p.sides.includes('b')) { ctx.moveTo(l, b); ctx.lineTo(r, b); }
    if (p.sides.includes('l')) { ctx.moveTo(l, t); ctx.lineTo(l, b); }
    if (p.sides.includes('r')) { ctx.moveTo(r, t); ctx.lineTo(r, b); }
    ctx.stroke();
    ctx.fillStyle = navy;
    ctx.beginPath();
    ctx.arc(p.marker[0] - ox, p.marker[1] - oy, p.radius, 0, Math.PI * 2);
    ctx.fill();
    ctx.fillStyle = '#000';
    ctx.font = '46px "Liberation Sans"';
    ctx.textAlign = 'left';
    ctx.textBaseline = 'middle';
    ctx.fillText(chart.data.datasets[0].label, p.legendText - ox, p.marker[1] - oy);
    ctx.restore();
  }
};

const page = document.getElementById('page');

panels.forEach(p => {
  const [ox, oy, w, h] = p.box;
  const [left, top, right, bottom] = p.area;
  const canvas = document.createElement('canvas');
  canvas.width = w;
  canvas.height = h;
  canvas.style.left = ox + 'px';
  canvas.style.top = oy + 'px';
  canvas.style.width = w + 'px';
  canvas.style.height = h + 'px';
  page.appendChild(canvas);

  const tickLabel = v => (p.labels.includes(v) ? String(v) : '');
  const setTicks = scale => { scale.ticks = p.ticks.map(v => ({ value: v })); };
  const noOverhang = s => { s.paddingLeft = s.paddingRight = s.paddingTop = s.paddingBottom = 0; };

  new Chart(canvas, {
    type: 'scatter',
    plugins: [framePlugin],
    data: {
      datasets: [{
        label: p.legend,
        data: p.points.map(([x, y]) => ({ x, y })),
        pointRadius: p.radius,
        pointBackgroundColor: navy,
        pointBorderWidth: 0
      }]
    },
    options: {
      responsive: false,
      animation: false,
      devicePixelRatio: 1,
      layout: { padding: { left: 0, top: top - oy, right: ox + w - right, bottom: 0 } },
      plugins: {
        legend: { display: false },
        tooltip: { enabled: false },
        frame: { panel: p }
      },
      scales: {
        x: {
          type: 'linear',
          min: p.range[0],
          max: p.range[1],
          grid: { display: false },
          border: { display: false },
          afterBuildTicks: setTicks,
          afterFit: s => { s.height = oy + h - bottom; noOverhang(s); },
          ticks: {
            autoSkip: false, maxRotation: 0, padding: p.xPad, color: '#000', font: tickFont,
            callback: tickLabel
          },
          title: {
            display: true, text: xLabel, color: '#000', font: xTitleFont,
            padding: { top: 0, bottom: oy + h - p.xTitleY - xTitleFont.size * 0.6 }
          }
        },
        y: {
          type: 'linear',
          min: p.range[0],
          max: p.range[1],
          grid: { display: false },
          border: { display: false },
          afterBuildTicks: setTicks,
          afterFit: s => { s.width = left - ox; noOverhang(s); },
          ticks: {
            autoSkip: false, padding: 25, color: '#000', font: tickFont,
            callback: tickLabel
          }
        }
      }
    }
  });

  const cap = document.createElement('div');
  cap.className = 'caption';
  cap.style.left = p.caption[0] + 'px';
  cap.style.top = p.caption[1] + 'px';
  cap.innerHTML = '(<b>' + p.name + '</b>)';
  page.appendChild(cap);
});
</script>
</body>
</html>
